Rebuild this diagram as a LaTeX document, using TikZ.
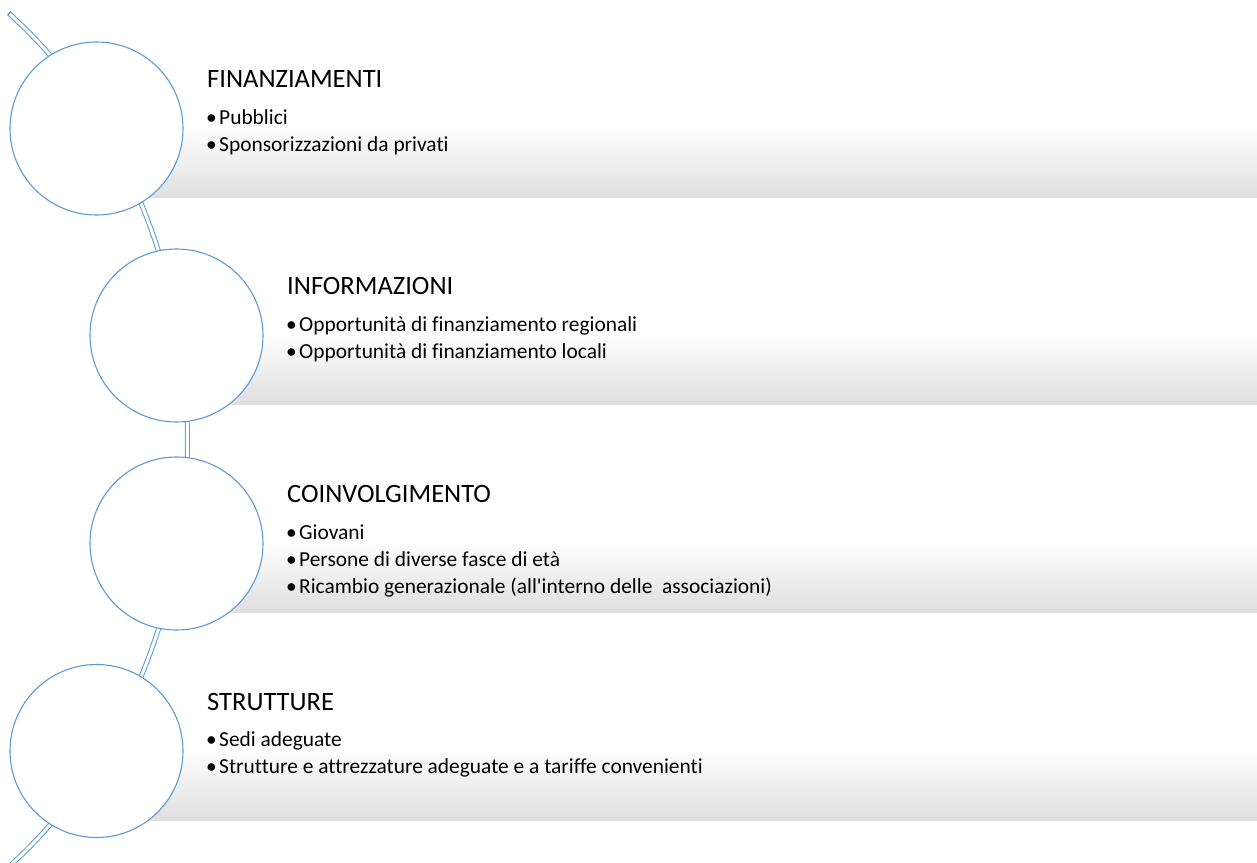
\documentclass[tikz,border=0pt]{standalone}
\usepackage{fontspec}
\setmainfont{Carlito}
\newfontfamily\calib{Carlito}[RawFeature=-liga]
\definecolor{sablue}{HTML}{5B9BD5}
\definecolor{sagray}{RGB}{223,223,223}
\definecolor{satext}{RGB}{0,0,0}
\begin{document}
\begin{tikzpicture}[x=1pt,y=-1pt,
  ring/.style={circle, draw=sablue, line width=1.1pt, fill=white, minimum size=173pt, inner sep=0pt},
  band/.style={top color=white, bottom color=sagray, draw=none},
  ttl/.style={anchor=base west, inner sep=0pt, font=\calib\fontsize{26.5}{30}\selectfont, text=satext},
  itm/.style={anchor=base west, inner sep=0pt, font=\calib\fontsize{21.4}{24}\selectfont, text=satext},
  linkout/.style={sablue, line width=5pt},
  linkin/.style={white, line width=3pt},
]
\useasboundingbox (0,0) rectangle (1257,862);
\clip (0,0) rectangle (1257,862);

% gradient bands (upper half is plain white)
\fill[band] (96.5,126) rectangle (1257,197);
\fill[band] (176.5,333) rectangle (1257,404.5);
\fill[band] (176.5,541) rectangle (1257,612.5);
\fill[band] (96.5,749) rectangle (1257,820);

% connector arc (drawn behind circles)
\coordinate (top) at ({-262.5+450*cos(-52.95)},{440+535*sin(-52.95)});
\coordinate (bot) at ({-262.5+450*cos(60)},{440+535*sin(60)});
\draw[linkout] plot[domain=-52.95:60, samples=160] ({-262.5+450*cos(\x)},{440+535*sin(\x)});
\draw[linkin] plot[domain=-52.75:60, samples=160] ({-262.5+450*cos(\x)},{440+535*sin(\x)});

% circles
\node[ring] (c1) at (96.5,128.5) {};
\node[ring] (c2) at (176.5,335.5) {};
\node[ring] (c3) at (176.5,543.5) {};
\node[ring] (c4) at (96.5,751) {};

% row 1
\node[ttl] (t1) at (207,87) {FINANZIAMENTI};
\node[itm] (b1a) at (206,124) {•};
\node[itm] (i1a) at (219,124) {Pubblici};
\node[itm] (b1b) at (206,151) {•};
\node[itm] (i1b) at (219,151) {Sponsorizzazioni da privati};

% row 2
\node[ttl] (t2) at (287,294.5) {INFORMAZIONI};
\node[itm] (b2a) at (286,331.5) {•};
\node[itm] (i2a) at (299,331.5) {Opportunità di finanziamento regionali};
\node[itm] (b2b) at (286,358.5) {•};
\node[itm] (i2b) at (299,358.5) {Opportunità di finanziamento locali};

% row 3
\node[ttl] (t3) at (287,502) {COINVOLGIMENTO};
\node[itm] (b3a) at (286,539) {•};
\node[itm] (i3a) at (299,539) {Giovani};
\node[itm] (b3b) at (286,566) {•};
\node[itm] (i3b) at (299,566) {Persone di diverse fasce di età};
\node[itm] (b3c) at (286,593.5) {•};
\node[itm] (i3c) at (299,593.5) {Ricambio generazionale (all'interno delle\ \ associazioni)};

% row 4
\node[ttl] (t4) at (207,710) {STRUTTURE};
\node[itm] (b4a) at (206,746) {•};
\node[itm] (i4a) at (219,746) {Sedi adeguate};
\node[itm] (b4b) at (206,773) {•};
\node[itm] (i4b) at (219,773) {Strutture e attrezzature adeguate e a tariffe convenienti};
\end{tikzpicture}
\end{document}
